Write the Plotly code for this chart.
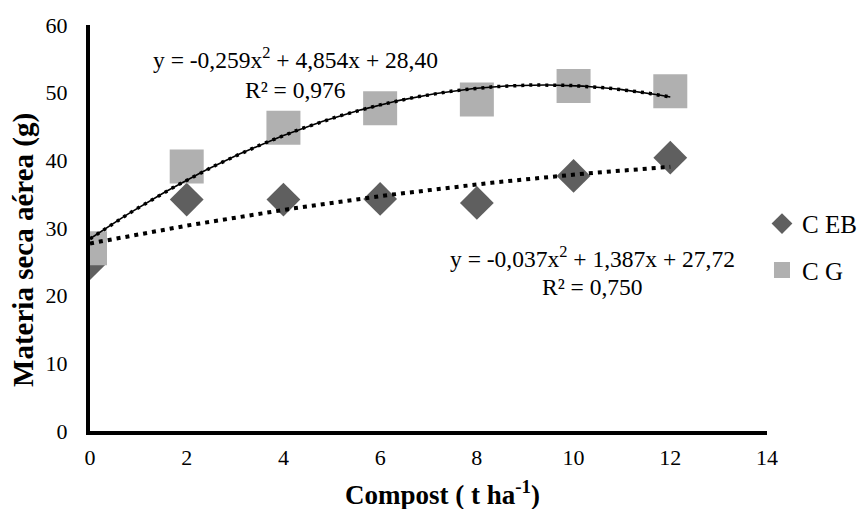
import numpy as np
import plotly.graph_objects as go

compost = [0, 2, 4, 6, 8, 10, 12]
c_eb = [24.8, 34.2, 34.2, 34.3, 33.7, 37.7, 40.4]
c_g = [27.0, 39.1, 44.8, 47.7, 49.0, 51.0, 50.2]

# trendline coefficients shown on the chart (a, b, c for y = a x^2 + b x + c)
coef_eb = [-0.037, 1.387, 27.72]
coef_g = [-0.259, 4.854, 28.40]

x_ticks = [0, 2, 4, 6, 8, 10, 12, 14]
y_ticks = [0, 10, 20, 30, 40, 50, 60]

FONT = "Times New Roman, Liberation Serif, DejaVu Serif, serif"

xs = np.linspace(0, 12, 121)
trend_eb = np.polyval(coef_eb, xs)
trend_g = np.polyval(coef_g, xs)

fig = go.Figure()
fig.add_trace(go.Scatter(
    x=compost, y=c_eb, mode="markers", name="C EB", legendgroup="a",
    marker=dict(symbol="diamond", size=26, color="#5f5f5f"),
))
fig.add_trace(go.Scatter(
    x=compost, y=c_g, mode="markers", name="C G", legendgroup="b",
    marker=dict(symbol="square", size=34, color="#b0b0b0"),
))
fig.add_trace(go.Scatter(
    x=xs, y=trend_g, mode="lines", showlegend=False,
    line=dict(color="black", width=1.6), hoverinfo="skip",
))
fig.add_trace(go.Scatter(
    x=xs, y=trend_g, mode="lines", showlegend=False,
    line=dict(color="black", width=3.5, dash="3px,5px"), hoverinfo="skip",
))
fig.add_trace(go.Scatter(
    x=xs, y=trend_eb, mode="lines", showlegend=False,
    line=dict(color="black", width=4, dash="4px,5px"), hoverinfo="skip",
))

ann_font = dict(family=FONT, size=23.5, color="black")
annots = [
    ("y = -0,259x<sup>2</sup> + 4,854x + 28,40", 4.24, 55.1),
    ("R² = 0,976", 4.24, 50.4),
    ("y = -0,037x<sup>2</sup> + 1,387x + 27,72", 10.40, 25.7),
    ("R² = 0,750", 10.40, 21.3),
]
for txt, ax, ay in annots:
    fig.add_annotation(x=ax, y=ay, xref="x", yref="y", text=txt,
                       showarrow=False, font=ann_font)

# axis titles placed as annotations (positions)
fig.add_annotation(x=-0.0975, y=0.446, xref="paper", yref="paper",
                   xanchor="center", yanchor="middle",
                   text="<b>Materia seca aérea (g)</b>", textangle=-90,
                   showarrow=False, font=dict(family=FONT, size=29, color="black"))
fig.add_annotation(x=0.52, y=-0.153, xref="paper", yref="paper",
                   xanchor="center", yanchor="middle",
                   text="<b>Compost ( t ha<sup>-1</sup>)</b>",
                   showarrow=False, font=dict(family=FONT, size=27, color="black"))

fig.update_layout(
    width=859, height=509,
    margin=dict(l=90, r=92, t=25, b=78, autoexpand=False),
    plot_bgcolor="white", paper_bgcolor="white",
    font=dict(family=FONT, size=22, color="black"),
    showlegend=True,
    legend=dict(x=0.9926, y=0.567, xanchor="left", yanchor="top",
                tracegroupgap=11, font=dict(family=FONT, size=25),
                itemwidth=30, bgcolor="rgba(0,0,0,0)"),
    xaxis=dict(range=[0, 14], tickvals=x_ticks, showgrid=False, zeroline=False,
               showline=True, linecolor="black", linewidth=4, ticks="",
               ticklabelstandoff=4,
               tickfont=dict(family=FONT, size=22)),
    yaxis=dict(range=[0, 60], tickvals=y_ticks, showgrid=False, zeroline=False,
               showline=True, linecolor="black", linewidth=4, ticks="",
               ticklabelstandoff=14,
               tickfont=dict(family=FONT, size=22)),
)

fig.write_html(
    "out.html",
    config={"displayModeBar": False},
    post_script="document.body.style.margin='0';document.body.style.overflow='hidden';",
)
